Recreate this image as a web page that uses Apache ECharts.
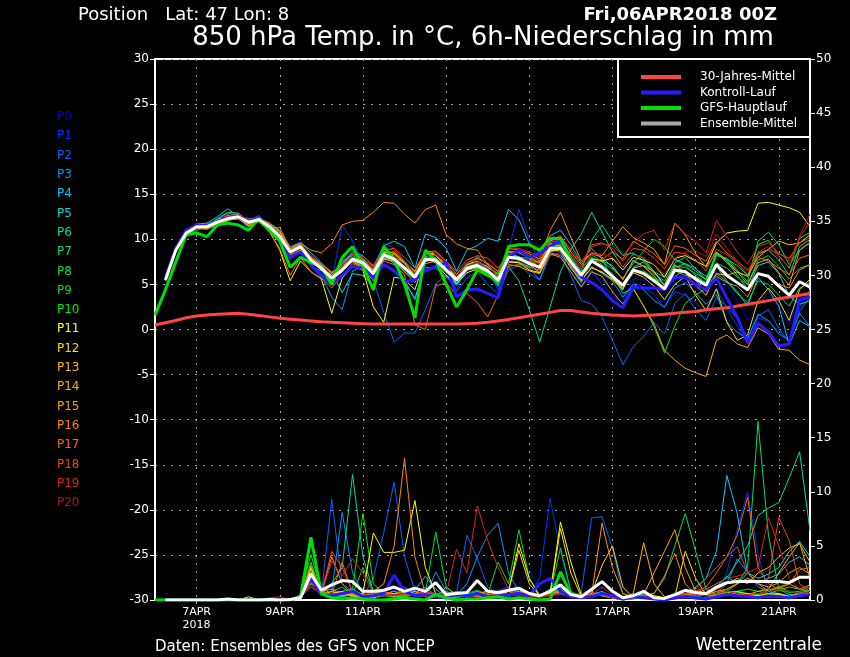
<!DOCTYPE html>
<html><head><meta charset="utf-8">
<script src="https://cdn.jsdelivr.net/npm/echarts@6/dist/echarts.min.js"></script>
<style>html,body{margin:0;padding:0;background:#000;}#c{width:850px;height:657px;}</style>
</head><body><div id="c"></div>
<script>
// ---- labels / names ----
const memberNames = ['P0','P1','P2','P3','P4','P5','P6','P7','P8','P9','P10','P11','P12','P13','P14','P15','P16','P17','P18','P19','P20'];
const memberColors = ['#0000e0','#0033ff','#0066ff','#0099ff','#00c8ff','#00dddd','#00dd99','#00dd66','#00dd44','#00dd22','#00ee00','#ffff00','#ffdd00','#ffbb00','#ffaa00','#ff9900','#ff8800','#ff6600','#ee4422','#dd2222','#bb1111'];
const tickIndex = [4,12,20,28,36,44,52,60];
const tickLabels = ['7APR\n2018','9APR','11APR','13APR','15APR','17APR','19APR','21APR'];
const legendNames = ['30-Jahres-Mittel','Kontroll-Lauf','GFS-Hauptlauf','Ensemble-Mittel'];

// ---- 850 hPa temperature (°C), 6-hourly from 06APR 00Z ----
const climTemp = [0.5,0.75,1.0,1.3,1.5,1.6,1.7,1.75,1.8,1.7,1.55,1.4,1.25,1.15,1.05,0.95,0.85,0.8,0.75,0.7,0.65,0.6,0.6,0.6,0.6,0.6,0.6,0.6,0.6,0.6,0.65,0.7,0.8,0.95,1.1,1.3,1.5,1.7,1.9,2.1,2.1,1.95,1.8,1.7,1.6,1.55,1.5,1.55,1.6,1.7,1.8,1.9,2.0,2.2,2.3,2.4,2.6,2.8,3.0,3.2,3.4,3.6,3.8,4.0];
const gfsTemp = [1.6,4.4,7.5,10.5,10.7,10.3,11.6,11.8,11.6,11.0,12.3,11.0,9.8,6.9,8.0,7.4,7.0,5.0,8.0,9.2,7.0,4.4,9.2,7.8,5.0,1.3,8.8,7.7,5.0,2.5,4.4,6.6,6.0,5.5,9.2,9.4,9.4,8.8,10.1,10.1,7.7];
// members, control and mean start at +6h
const ctrlTemp = [5.8,9.0,11.0,11.6,11.5,12.0,12.4,12.6,12.0,12.5,11.2,9.8,
 8.0,8.6,7.2,6.0,5.0,6.0,7.0,6.8,5.8,7.2,6.5,5.3,5.5,6.5,7.0,7.4,3.6,4.4,4.5,4.0,3.5,
 8.0,8.8,8.0,8.5,9.2,9.9,7.5,5.8,5.2,4.4,3.2,2.4,4.7,4.6,4.6,4.4,5.8,5.8,5.0,4.4,5.7,3.5,1.4,-1.5,0.7,-0.3,-1.8,-1.6,3.3,3.6];
const meanTemp = [5.5,8.8,10.7,11.4,11.4,11.9,12.3,12.5,11.9,12.2,11.4,10.3,
 8.6,9.2,7.7,6.8,5.7,6.6,7.8,7.4,6.2,8.3,7.8,6.8,5.8,7.8,7.7,6.6,5.5,6.8,7.1,6.5,5.5,
 8.0,7.9,7.3,6.9,9.0,9.0,7.5,6.0,7.6,6.9,5.9,4.9,6.6,6.2,5.4,4.5,6.6,6.4,5.6,4.9,7.2,6.0,5.2,4.4,6.2,5.9,4.8,3.8,5.3,4.7];
const memberTemp = [
 [5.4,8.7,10.9,11.2,11.6,12.1,12.6,12.3,11.5,12.4,11.0,10.0, 8.3,9.0,7.4,6.2,5.0,6.9,8.2,7.0,5.5,8.0,7.0,6.0,4.8,7.4,8.0,6.5,4.9,6.1,7.5,6.9,4.6, 7.8,8.4,6.8,6.5,8.7,8.2,6.5,5.0,6.2,5.4,4.5,3.3,5.6,5.5,4.3,3.1,5.8,5.1,4.7,3.6,6.5,4.9,3.3,1.0,2.8,4.0,2.5,0.6,3.8,3.9],
 [5.6,9.0,10.8,11.6,11.3,11.7,12.2,12.8,12.2,12.0,11.8,10.6, 9.0,9.8,8.5,7.3,5.2,11.6,9.8,7.5,5.4,9.6,9.0,7.7,5.2,8.2,8.6,7.1,4.4,7.4,7.0,6.8,4.3, 8.8,13.3,10.0,7.4,9.4,10.1,7.0,4.8,6.6,5.0,3.8,2.9,5.2,4.7,3.9,2.4,4.2,3.8,3.0,1.8,4.6,2.3,0.4,-1.6,1.3,0.9,-0.2,-1.3,2.4,4.4],
 [5.3,8.6,10.5,11.5,11.2,12.0,12.4,12.4,11.2,12.6,11.5,10.2, 8.0,8.6,7.0,5.8,4.9,7.4,8.0,6.6,5.5,1.9,-1.4,-0.4,-0.4,2.2,5.0,6.1,4.2,5.7,6.4,5.0,3.9, 6.6,7.1,6.2,5.5,8.2,8.5,6.0,3.2,2.8,1.4,-1.2,-3.9,-1.9,-0.8,0.8,-0.5,2.9,4.0,2.2,1.0,3.5,2.6,1.2,-0.9,1.5,2.2,0.1,-1.4,2.0,3.7],
 [5.7,8.9,10.9,11.3,11.7,12.2,12.9,12.6,12.1,12.3,11.2,9.9, 7.8,8.7,7.2,6.0,3.6,2.2,6.5,7.0,6.6,7.8,7.6,5.2,3.5,6.9,6.8,5.8,4.9,6.5,7.4,6.7,5.0, 7.4,7.6,6.8,5.5,8.6,8.9,7.8,6.4,7.0,6.2,5.4,3.6,5.0,4.4,3.2,2.5,4.6,5.2,4.1,2.8,3.9,0.8,-0.3,-1.0,1.7,1.0,-0.5,-1.2,1.8,0.3],
 [5.5,8.8,10.6,11.0,11.5,11.8,12.0,12.7,11.8,12.1,11.6,10.8, 9.2,9.6,8.5,7.4,6.2,7.3,8.6,8.2,7.0,9.3,9.8,9.2,6.8,10.6,10.2,9.0,6.5,8.8,9.3,10.1,9.8, 13.3,12.2,9.5,8.6,10.4,11.0,9.4,7.4,9.0,7.8,5.6,4.5,6.9,7.5,6.2,5.4,7.4,8.0,6.7,5.9,7.0,5.4,4.2,2.6,5.8,4.4,2.6,-1.7,1.0,0.3],
 [5.6,9.1,11.0,11.7,11.8,12.5,13.4,12.5,12.3,12.4,11.3,10.5, 8.8,9.4,8.0,7.2,6.3,4.1,6.2,6.0,4.8,8.2,7.3,5.5,3.3,7.5,7.9,7.0,5.6,6.9,8.1,7.2,5.8, 8.6,8.0,7.9,6.7,9.3,9.7,8.0,6.3,7.9,7.6,7.1,5.5,7.7,7.0,5.9,4.9,6.9,7.3,6.5,5.5,8.4,7.6,6.0,4.5,7.1,7.5,6.2,3.7,2.8,3.2],
 [5.4,8.7,10.8,11.4,11.5,12.3,13.0,12.9,12.0,12.0,11.4,10.1, 8.4,9.1,7.6,6.6,5.9,7.6,8.2,7.6,6.6,8.7,8.0,7.4,6.1,8.1,7.9,6.9,5.6,7.0,7.3,6.2,5.6, 7.0,5.4,2.2,-1.4,2.5,6.4,8.9,10.6,13.0,10.8,8.6,6.9,8.4,7.9,6.4,5.8,7.8,7.2,6.0,5.1,8.4,7.8,7.1,6.0,8.5,8.8,7.7,6.0,9.2,10.0],
 [5.5,8.8,10.6,11.2,11.1,11.6,12.3,12.2,11.9,12.3,11.7,10.9, 8.2,8.8,7.0,6.5,5.4,6.4,7.6,7.3,6.0,8.4,7.5,6.4,5.6,7.6,7.8,6.7,5.0,6.6,7.0,6.1,4.8, 8.3,8.1,7.4,7.0,9.0,9.4,7.8,6.5,9.9,11.6,9.8,8.2,8.5,7.6,6.4,4.8,6.5,6.0,5.8,5.2,8.2,7.9,6.6,5.3,9.8,10.8,9.4,7.2,8.8,9.6],
 [5.6,8.9,10.7,11.5,11.3,11.8,12.5,12.6,11.6,12.5,11.1,9.8, 8.9,9.4,7.9,7.0,5.8,6.8,7.7,7.6,6.5,8.0,7.7,6.8,6.0,7.9,7.5,6.3,5.3,6.7,6.9,6.3,5.0, 7.6,7.4,7.0,7.6,9.2,9.3,7.0,5.2,7.5,7.1,6.2,4.0,4.6,2.6,0.3,-2.6,0.4,2.9,3.8,4.6,6.2,5.3,4.0,3.0,5.4,5.0,3.8,2.6,4.6,5.2],
 [5.4,8.7,10.9,11.6,11.6,12.0,12.1,12.4,12.2,11.9,11.0,10.0, 8.6,9.3,7.8,6.9,5.6,6.5,8.0,7.8,6.4,8.6,8.2,7.0,5.9,7.8,7.7,6.4,5.2,6.6,6.8,6.6,5.4, 8.2,8.0,7.5,6.8,9.3,9.5,8.1,6.6,8.3,7.5,6.7,5.7,7.3,8.7,10.0,9.2,7.7,7.3,6.8,5.5,7.4,6.8,5.8,5.0,7.7,8.2,7.0,5.6,6.8,7.2],
 [5.5,8.9,10.8,11.3,11.4,11.9,12.4,12.7,11.7,12.2,11.5,10.4, 8.5,9.0,7.5,6.7,5.8,6.7,7.9,7.8,6.5,8.4,7.9,6.9,6.2,8.0,7.9,6.8,5.7,7.1,7.5,7.0,6.2, 8.6,8.6,7.9,7.2,9.4,9.3,7.7,6.7,8.0,7.2,5.9,4.9,6.4,6.5,5.7,4.6,7.0,6.9,6.2,5.6,8.6,7.4,6.4,5.9,9.4,9.9,8.2,6.8,10.1,10.8],
 [5.6,8.8,10.6,11.5,11.5,11.7,12.6,12.3,11.5,12.0,10.9,8.8, 5.4,7.6,6.4,5.6,1.8,5.7,7.0,6.6,2.5,0.8,5.8,5.6,4.4,7.9,7.4,6.0,5.1,6.3,6.7,6.0,5.3, 7.5,7.4,6.6,6.3,8.7,8.9,7.6,6.2,7.8,7.6,7.9,6.6,8.0,7.7,7.2,5.8,7.9,8.2,7.6,7.0,9.6,10.7,10.9,11.0,14.0,14.1,13.8,13.5,13.0,11.4],
 [5.5,8.7,10.8,11.4,11.2,12.1,12.2,12.8,12.0,12.3,11.6,10.3, 8.0,8.8,7.6,6.9,6.0,7.0,7.9,7.1,6.0,8.5,8.6,7.5,6.4,8.7,8.3,7.2,5.8,7.2,7.6,6.9,6.1, 8.0,7.8,7.2,6.3,8.8,8.7,6.8,5.4,6.9,6.3,5.6,4.6,6.3,5.8,4.8,3.3,5.0,5.9,3.8,2.1,4.5,0.8,-1.2,-0.6,3.2,4.6,3.2,1.0,4.4,5.6],
 [5.7,9.0,10.7,11.2,11.3,11.8,12.3,12.5,12.1,12.6,11.4,10.7, 8.7,9.4,7.9,7.1,5.2,6.8,7.5,6.8,5.9,7.8,8.4,7.3,5.9,8.6,8.2,7.0,5.7,6.9,7.2,6.4,5.4, 7.9,7.7,7.5,7.5,9.6,9.2,7.2,5.5,6.8,6.4,5.5,4.4,6.8,7.1,6.4,5.0,7.2,6.3,4.9,3.8,6.2,6.0,6.4,5.9,8.0,8.9,9.8,9.4,9.6,10.5],
 [5.4,8.8,10.9,11.6,11.5,12.2,12.5,12.6,11.8,12.1,11.3,10.2, 8.3,9.0,7.5,6.6,5.3,6.7,7.6,7.0,5.8,7.8,7.6,6.4,5.2,7.3,7.6,6.8,5.8,6.6,6.9,6.1,5.2, 7.2,7.0,6.5,6.2,8.4,8.0,6.4,4.7,6.4,5.9,4.2,2.8,4.5,2.6,0.6,-2.3,-3.4,-4.3,-4.8,-5.2,-1.2,-0.6,-1.6,-2.0,0.2,-0.5,-2.2,-2.3,-3.4,-3.9],
 [5.5,8.9,10.5,11.3,11.6,11.9,12.7,12.4,11.4,12.4,11.8,11.0, 8.9,9.5,8.0,7.2,6.3,7.2,8.4,7.9,6.7,8.9,8.4,7.5,6.5,8.6,8.7,7.5,6.1,7.4,7.9,7.3,6.4, 8.7,8.5,8.0,7.4,9.8,10.3,8.6,7.2,8.5,8.2,9.8,11.4,10.2,9.6,8.9,7.2,11.8,10.5,8.4,6.9,8.6,7.7,6.4,5.0,7.4,7.8,6.3,4.9,8.8,9.7],
 [5.6,8.7,10.8,11.5,11.2,11.6,12.1,12.3,12.1,12.2,11.2,11.3, 9.0,9.6,8.8,8.5,9.5,11.6,12.0,12.1,13.0,14.1,14.0,12.8,11.8,13.3,13.8,10.5,9.5,9.0,8.8,7.2,5.8, 9.0,8.8,8.4,7.8,11.0,13.0,10.2,7.6,8.4,8.0,6.9,5.6,7.6,7.0,6.0,4.3,5.9,6.6,5.4,4.2,5.9,5.2,4.8,3.6,6.2,6.0,5.0,4.6,6.6,7.2],
 [5.5,8.8,10.7,11.2,11.4,11.7,12.4,12.7,11.6,12.0,10.8,9.0, 6.0,8.0,6.4,5.7,4.6,6.0,7.3,6.8,5.4,7.6,7.2,6.1,0.5,0.0,4.8,5.2,3.8,4.0,3.0,1.4,3.8, 7.0,7.2,6.9,6.6,8.5,8.2,7.1,5.9,7.4,7.8,8.6,7.8,9.8,9.1,8.4,7.2,9.3,9.0,8.2,7.6,9.8,8.5,7.6,6.6,8.0,7.6,6.8,6.1,7.9,8.3],
 [5.4,8.9,11.0,11.5,11.7,12.0,12.6,12.9,12.0,12.4,11.5,10.5, 8.8,9.4,8.2,7.3,6.4,7.0,8.3,8.1,7.1,8.8,9.0,8.0,6.8,8.5,8.6,7.6,6.4,7.7,8.2,7.9,6.8, 8.5,8.7,8.2,7.6,9.7,9.9,8.3,6.9,9.4,9.6,9.0,7.6,9.0,8.8,7.9,6.7,8.6,8.4,7.7,6.5,8.9,8.3,7.4,6.1,8.3,8.9,8.4,7.9,9.6,10.2],
 [5.6,8.8,10.6,11.4,11.3,11.9,12.8,12.2,11.9,12.1,11.6,10.6, 8.6,9.1,7.9,7.0,6.1,7.2,8.0,7.9,6.9,9.0,8.8,7.6,6.3,8.4,8.7,7.5,6.2,7.4,7.8,7.4,6.5, 8.9,9.0,8.6,8.1,9.9,10.4,8.9,7.4,9.2,9.5,9.3,8.2,9.6,10.6,11.0,8.8,11.8,10.6,9.8,8.5,12.1,10.3,8.6,7.3,9.2,9.6,8.5,7.6,10.2,11.9],
 [5.5,8.7,10.8,11.3,11.5,12.0,12.4,12.6,12.3,12.0,11.3,10.4, 8.4,8.9,7.6,6.8,5.9,6.9,7.9,7.5,6.4,8.2,8.1,7.0,5.9,7.9,8.3,7.3,5.9,7.0,7.5,7.1,6.0, 7.6,7.9,7.7,7.3,9.2,9.6,8.0,6.6,8.3,8.4,8.0,7.0,8.3,8.0,7.2,6.1,7.9,8.6,8.7,8.1,10.6,9.0,7.6,6.5,8.6,9.2,8.0,7.0,10.4,12.8]
];

// ---- 6h precipitation (mm) ----
const gfsPrec = [0,0,0,0,0,0,0,0,0,0,0,0,0,0,0.3,5.8,0.6,0.2,0.1,0.2,0.1,0,0,0.1,0.2,0.1,0,0.5,0.2,0,0.1,0.1,0.2,0.3,0.1,0.2,0.1,0,0.1,2.6,0.5];
const ctrlPrec = [0,0,0,0,0,0,0,0,0,0,0,0, 0,0.3,2.0,0.5,0.4,0.6,0.8,0.3,0.4,0.6,2.3,0.8,0.4,0.5,0.3,0.2,0.5,0.4,0.6,0.3,0.4, 0.5,0.6,0.4,1.5,2.0,0.8,0.3,0.2,0.3,0.6,0.4,0.1,0.3,0.2,0.1,0,0.2,0.3,0.2,0.1,0.3,0.5,0.4,0.3,0.2,0.4,0.3,0.2,0.4,0.5];
const meanPrec = [0,0,0,0,0,0,0.1,0,0,0,0.05,0, 0.05,0.2,2.4,0.9,1.4,1.8,1.7,0.8,0.8,0.9,1.2,0.8,1.1,0.8,1.6,0.5,0.6,0.7,1.8,0.8,0.7, 0.9,1.1,0.6,0.4,0.8,1.4,0.5,0.3,1.0,1.7,0.8,0.2,0.4,0.8,0.2,0.15,0.5,0.9,0.7,0.6,1.2,1.6,1.7,1.7,1.7,1.7,1.7,1.6,2.1,2.1];
const memberPrec = [
 [0,0,0,0,0,0,0,0,0,0,0,0, 0,0.3,2.0,0.6,1.2,0.8,0.4,0.2,0.5,1.0,0.6,0.3,1.4,0.5,0.8,0.2,0.3,1.0,0.4,0.2,0.6, 0.8,1.5,2.8,1.0,0.4,0.3,0.2,0.5,1.4,1.2,0.2,0,0.3,0.4,0.1,0,0.2,0.3,0.2,0.1,0.3,0.5,0.6,0.4,0.3,0.5,0.6,0.2,0.4,0.6],
 [0,0,0,0,0,0,0,0,0,0,0,0, 0,0.2,1.5,0.8,0.4,0.3,0.6,0.2,0.1,0.4,0.9,0.5,0.7,0.3,0.2,0.1,0.4,0.6,0.3,0.2,0.9, 1.2,0.8,0.5,2.0,9.4,4.5,0.6,0.3,0.8,0.5,0.2,0.1,0.2,0.3,0.1,0,0.1,0.2,0.1,0,0.4,2.5,6.5,10.0,4.2,0.8,0.5,0.3,0.6,0.8],
 [0,0,0,0,0,0,0,0,0,0,0,0, 0,0.4,3.0,0.5,9.3,1.5,0.8,0.3,2.0,6.2,10.9,4.0,0.8,0.5,0.3,0.2,0.6,6.0,3.8,1.2,0.5, 0.3,0.6,0.2,0.4,1.0,0.8,0.5,0.6,7.6,7.7,4.8,0.5,0.3,0.2,0.1,0,0.1,0.4,0.3,0.2,0.5,0.8,0.6,0.4,0.3,0.2,0.4,0.3,0.5,0.6],
 [0,0,0,0,0,0,0,0,0,0,0,0, 0,0.3,1.2,0.6,0.8,8.1,2.5,0.6,0.3,0.8,0.4,1.2,0.5,0.3,2.6,0.8,0.4,1.5,4.0,6.0,7.1, 2.5,0.8,0.3,0.5,0.6,1.2,0.4,0.2,0.6,0.5,0.2,0,0.2,0.3,0.1,0,0.2,0.5,0.3,0.2,0.6,1.5,3.8,2.6,1.2,0.8,0.6,0.4,0.7,0.9],
 [0,0,0,0,0,0,0,0,0,0,0,0, 0,0.2,1.8,0.4,0.6,0.8,0.3,0.5,0.2,0.6,0.3,0.4,0.9,2.2,1.0,0.3,0.2,0.5,0.4,0.3,0.6, 0.4,0.8,0.5,0.3,0.6,0.8,0.5,0.3,0.4,0.5,0.2,0.1,0.3,0.6,0.2,0.1,0.3,0.6,1.2,2.0,4.5,11.5,8.0,2.5,1.6,2.0,2.4,3.5,4.0,3.2],
 [0,0,0,0,0,0,0,0,0,0,0,0, 0,0.4,2.5,1.2,0.5,0.3,0.6,0.2,0.4,0.5,0.8,0.3,0.6,0.4,0.3,1.2,0.5,0.4,0.8,0.5,0.4, 0.8,0.6,0.3,0.4,1.0,2.3,0.6,0.3,0.5,0.8,0.3,0,0.1,0.3,0.2,0.1,0.4,0.5,0.8,0.6,1.2,2.2,1.5,2.5,2.0,2.4,3.0,4.5,5.4,4.0],
 [0,0,0,0,0,0,0,0,0,0,0,0, 0,0.2,2.2,0.5,1.5,3.0,11.6,4.0,0.8,0.4,0.3,0.5,0.6,0.3,0.5,0.2,0.4,0.3,0.5,0.2,0.3, 0.6,0.5,0.4,0.2,0.8,0.6,0.3,0.2,0.5,0.4,0.2,0,0.1,0.2,0.1,0,0.2,0.3,0.6,1.0,1.5,2.0,3.5,5.0,7.8,8.5,9.0,11.3,13.7,6.4],
 [0,0,0,0,0,0,0,0,0,0,0,0, 0,0.3,3.5,0.6,0.4,0.3,0.5,0.4,0.2,0.6,0.5,0.3,0.6,1.2,0.4,0.3,0.2,0.5,0.8,0.4,0.3, 0.5,0.8,0.6,0.3,0.6,1.0,0.4,0.2,0.4,0.6,0.3,0.1,0.3,0.4,0.6,2.0,5.0,8.0,4.5,1.0,0.6,0.8,1.5,3.0,16.5,6.0,1.0,0.5,0.4,0.6],
 [0,0,0,0,0,0,0,0,0,0,0,0, 0,0.2,2.8,0.4,0.6,0.8,1.0,0.5,0.3,0.4,0.6,0.8,0.4,0.6,6.3,1.2,0.4,0.3,0.6,0.8,0.4, 0.6,1.0,0.5,0.3,0.5,0.8,0.4,0.3,0.5,0.6,0.2,0,0.2,0.4,0.3,0.2,0.5,0.4,0.3,0.2,0.4,0.6,0.8,0.6,0.5,0.9,1.2,0.8,0.6,0.9],
 [0,0,0,0,0,0,0,0,0,0,0,0, 0,0.3,1.6,0.6,0.8,1.2,0.5,3.0,0.8,0.4,0.5,0.6,0.4,0.3,0.5,0.8,0.4,0.6,0.9,0.5,3.5, 1.5,6.5,2.0,0.4,0.5,2.5,0.6,0.3,0.5,0.4,0.2,0,0.1,0.3,0.2,0.1,0.3,0.4,0.5,0.4,0.6,0.8,0.7,0.6,0.5,0.8,1.0,0.7,0.8,1.2],
 [0,0,0,0,0,0,0,0,0,0,0,0, 0,0.5,4.2,0.8,0.6,0.4,1.0,8.0,1.5,0.6,0.4,0.3,0.5,0.6,0.4,0.3,0.5,0.4,0.6,0.3,0.4, 0.5,0.8,0.4,0.3,0.6,4.8,0.8,0.3,0.4,0.6,0.2,0,0.2,0.3,0.2,0.1,0.3,0.5,0.6,0.4,0.5,0.7,0.8,1.0,0.8,0.6,0.9,1.2,1.0,0.8],
 [0,0,0,0,0,0,0,0,0.3,0,0,0, 0,0.3,3.0,0.5,0.6,0.8,0.4,0.6,6.2,4.4,4.4,4.6,9.2,3.0,0.6,0.4,0.5,0.3,0.6,0.4,0.5, 0.8,5.2,2.0,0.4,0.6,7.2,3.5,0.5,0.4,0.6,0.3,0.1,0.2,0.3,0.2,0.1,0.3,0.4,0.5,0.4,0.6,0.8,0.5,0.6,0.4,0.5,0.6,0.3,0.5,0.6],
 [0,0,0,0,0,0,0,0,0,0,0,0, 0,0.2,2.4,0.6,0.5,0.8,0.3,0.4,0.2,0.5,0.6,0.4,0.8,0.5,0.3,0.6,0.4,0.5,0.3,0.4,0.6, 0.8,4.6,1.5,0.4,0.5,6.6,2.5,0.3,0.6,3.2,5.0,1.2,0.2,0.3,0.4,0.2,0.3,4.5,2.0,0.5,0.4,0.6,0.8,0.5,0.4,0.6,0.5,0.3,0.6,0.8],
 [0,0,0,0,0,0,0,0,0,0,0,0, 0,0.3,2.0,0.4,0.8,0.6,0.4,0.3,0.5,0.6,0.4,0.6,0.5,0.4,0.3,0.5,0.6,0.4,0.5,0.3,0.4, 0.5,0.6,0.4,0.3,0.6,0.8,0.5,0.3,0.4,0.5,0.3,0.2,0.6,5.3,1.5,0.3,0.5,0.6,0.8,0.5,1.0,1.5,2.0,1.5,2.5,3.0,4.0,4.8,5.2,3.5],
 [0,0,0,0,0,0,0,0,0,0,0,0, 0,0.2,1.8,0.6,0.5,0.4,0.6,0.3,0.4,0.5,0.3,0.8,0.4,0.6,0.5,0.3,0.4,0.6,0.3,0.5,0.4, 0.6,0.5,0.4,0.3,0.5,0.8,0.4,0.3,0.5,0.4,0.2,0,0.3,0.5,2.5,4.5,6.5,3.0,0.8,0.5,0.6,0.8,0.6,0.5,0.8,1.0,2.5,4.0,5.3,2.0],
 [0,0,0,0,0,0,0,0,0,0,0,0, 0,0.4,2.6,0.8,1.0,0.6,0.5,0.4,0.6,0.8,0.5,0.6,0.4,0.5,0.3,0.6,0.5,0.4,0.6,0.8,0.5, 0.6,0.8,0.5,0.3,0.6,1.2,0.5,0.4,0.5,7.1,3.0,0.6,0.3,0.4,0.2,0.1,0.3,0.5,0.6,0.5,0.8,1.0,1.5,2.0,1.5,1.2,1.6,2.5,3.0,2.4],
 [0,0,0,0,0,0,0,0,0,0,0,0, 0,0.3,3.2,0.6,4.0,1.5,0.5,0.4,0.8,1.5,5.0,13.1,4.0,0.6,0.4,0.3,0.5,0.6,0.4,0.5,0.6, 0.8,1.0,0.5,0.4,0.6,0.8,0.4,0.3,0.6,0.5,0.3,0.1,0.2,0.4,0.6,2.2,4.3,1.5,0.5,0.4,0.6,1.0,1.5,2.0,1.5,0.8,1.2,1.5,1.0,1.4],
 [0,0,0,0,0,0,0,0,0,0,0,0, 0,0.2,1.5,0.8,0.5,3.5,0.6,0.4,0.3,0.6,0.8,0.5,0.4,0.6,0.3,0.5,0.8,0.6,0.4,0.3,0.5, 0.6,0.8,0.4,0.3,0.5,0.6,0.4,0.3,0.4,0.6,0.3,0.1,0.2,0.3,0.2,0.1,0.3,0.5,0.8,1.2,2.5,4.0,6.0,9.5,3.0,1.5,1.0,1.5,2.8,3.0],
 [0,0,0,0,0,0,0,0,0,0,0,0, 0,0.5,2.2,0.6,4.5,3.0,0.8,0.5,0.4,0.6,0.5,0.4,0.6,0.8,0.5,0.4,0.6,0.5,0.3,0.6,0.4, 0.5,0.6,0.4,0.3,0.5,0.6,0.4,0.2,0.4,0.5,0.2,0.1,0.2,0.3,0.2,0.1,0.3,0.5,1.0,2.0,3.0,4.0,4.9,2.5,1.5,2.0,7.6,5.5,1.5,0.8],
 [0,0,0,0,0,0,0,0,0,0,0.2,0.3, 0,0.3,1.8,0.5,3.6,2.2,3.8,2.5,0.6,0.4,0.5,0.6,0.4,0.8,0.6,0.5,4.7,2.5,8.7,5.5,3.0, 1.0,0.6,0.4,0.3,0.5,0.6,0.4,0.3,0.5,1.2,0.5,0.2,0.3,0.4,0.2,0.1,0.3,0.6,0.8,1.0,1.5,2.0,2.2,2.5,3.0,7.6,5.0,2.0,1.0,1.2],
 [0,0,0,0,0,0,0,0,0,0,0,0, 0,0.2,1.4,0.4,0.6,0.5,0.8,0.4,0.3,0.5,0.4,0.6,0.5,0.3,0.4,0.6,0.5,0.4,0.6,0.4,0.3, 0.5,0.4,0.3,0.2,0.4,0.5,0.3,0.2,0.4,0.5,0.2,0,0.2,0.3,0.2,0.1,0.2,0.4,0.5,0.4,0.6,0.8,0.6,0.5,0.6,0.8,1.0,0.8,0.6,0.8]
];

// ---- build chart ----
const NSTEPS = 64;
const categories = [];
for (let i = 0; i < NSTEPS; i++) categories.push('+' + (i * 6) + 'h');
const shift1 = arr => [null].concat(arr);   // series that start at +6h

const FONT = '"DejaVu Sans", sans-serif';
const series = [];
memberNames.forEach((n, k) => {
  series.push({name: n, type: 'line', data: shift1(memberTemp[k]), symbol: 'none', yAxisIndex: 0,
    lineStyle: {width: 1, color: memberColors[k]}, itemStyle: {color: memberColors[k]}, z: 2});
  series.push({name: n, type: 'line', data: shift1(memberPrec[k]), symbol: 'none', yAxisIndex: 1,
    lineStyle: {width: 1, color: memberColors[k]}, itemStyle: {color: memberColors[k]}, z: 2});
});
const thick = (name, data, color, axis) => ({name, type: 'line', data, symbol: 'none', yAxisIndex: axis,
  lineStyle: {width: 3, color}, itemStyle: {color}, z: 3});
series.push(thick('30-Jahres-Mittel', climTemp, '#ff4444', 0));
series.push(thick('Kontroll-Lauf', shift1(ctrlTemp), '#2a1aff', 0));
series.push(thick('Kontroll-Lauf', shift1(ctrlPrec), '#2a1aff', 1));
series.push(thick('GFS-Hauptlauf', gfsTemp, '#00dd00', 0));
series.push(thick('GFS-Hauptlauf', gfsPrec, '#00dd00', 1));
series.push(thick('Ensemble-Mittel', shift1(meanTemp), '#ffffff', 0));
series.push(thick('Ensemble-Mittel', shift1(meanPrec), '#ffffff', 1));

const legendColors = ['#ff4444', '#2a1aff', '#00dd00', '#aaaaaa'];

const graphics = [
  {type: 'text', x: 78, y: 15, style: {text: 'Position   Lat: 47 Lon: 8', fill: '#fff', font: '18px ' + FONT, textVerticalAlign: 'middle'}},
  {type: 'text', x: 777, y: 15, style: {text: 'Fri,06APR2018 00Z', fill: '#fff', font: 'bold 18px ' + FONT, textAlign: 'right', textVerticalAlign: 'middle'}},
  {type: 'text', x: 483, y: 38, style: {text: '850 hPa Temp. in °C, 6h-Niederschlag in mm', fill: '#fff', font: '26px ' + FONT, textAlign: 'center', textVerticalAlign: 'middle'}},
  {type: 'text', x: 155, y: 647, style: {text: 'Daten: Ensembles des GFS von NCEP', fill: '#fff', font: '15px ' + FONT, textVerticalAlign: 'middle'}},
  {type: 'text', x: 822, y: 646, style: {text: 'Wetterzentrale', fill: '#fff', font: '17px ' + FONT, textAlign: 'right', textVerticalAlign: 'middle'}},
  {type: 'rect', shape: {x: 618, y: 59, width: 192, height: 78}, style: {fill: '#000', stroke: '#fff', lineWidth: 2}, z: 50}
];
memberNames.forEach((n, k) => {
  graphics.push({type: 'text', x: 57, y: 117 + k * 19.3, style: {text: n, fill: memberColors[k], font: '12px ' + FONT, textVerticalAlign: 'middle'}});
});

const chart = echarts.init(document.getElementById('c'), null, {renderer: 'canvas'});
chart.setOption({
  backgroundColor: '#000',
  animation: false,
  textStyle: {fontFamily: FONT},
  grid: {left: 155, right: 40, top: 59, bottom: 57, show: true, borderColor: '#fff', borderWidth: 2, backgroundColor: 'transparent'},
  legend: {
    data: legendNames.map((n, k) => ({name: n, itemStyle: {color: legendColors[k]}})),
    orient: 'vertical', left: 641, top: 70, padding: 0, itemWidth: 40, itemHeight: 4, itemGap: 1.5, icon: 'rect',
    selectedMode: false, z: 60,
    textStyle: {color: '#fff', fontSize: 12, fontFamily: FONT, padding: [0, 0, 0, 14], lineHeight: 14}
  },
  xAxis: {
    type: 'category', data: categories, boundaryGap: false,
    axisLine: {onZero: false, lineStyle: {color: '#fff', width: 2}},
    axisTick: {show: true, interval: (i) => tickIndex.includes(i), length: 4, lineStyle: {color: '#aaa'}},
    axisLabel: {interval: (i) => tickIndex.includes(i), color: '#fff', fontSize: 11, lineHeight: 13, margin: 6,
      formatter: (v, i) => { const p = tickIndex.indexOf(i); return p >= 0 ? tickLabels[p] : ''; }},
    splitLine: {show: true, interval: (i) => tickIndex.includes(i), lineStyle: {color: '#aaa', type: [2, 6], width: 1}}
  },
  yAxis: [
    {type: 'value', min: -30, max: 30, interval: 5, position: 'left',
      axisLine: {show: true, onZero: false, lineStyle: {color: '#fff', width: 2}},
      axisTick: {show: true, length: 5, lineStyle: {color: '#fff'}},
      axisLabel: {color: '#fff', fontSize: 12, margin: 6},
      splitLine: {show: true, lineStyle: {color: '#aaa', type: [2, 6], width: 1}}},
    {type: 'value', min: 0, max: 50, interval: 5, position: 'right',
      axisLine: {show: true, onZero: false, lineStyle: {color: '#fff', width: 2}},
      axisTick: {show: true, length: 5, lineStyle: {color: '#fff'}},
      axisLabel: {color: '#fff', fontSize: 12, margin: 6},
      splitLine: {show: false}}
  ],
  graphic: graphics,
  series: series
});
</script>
</body></html>
